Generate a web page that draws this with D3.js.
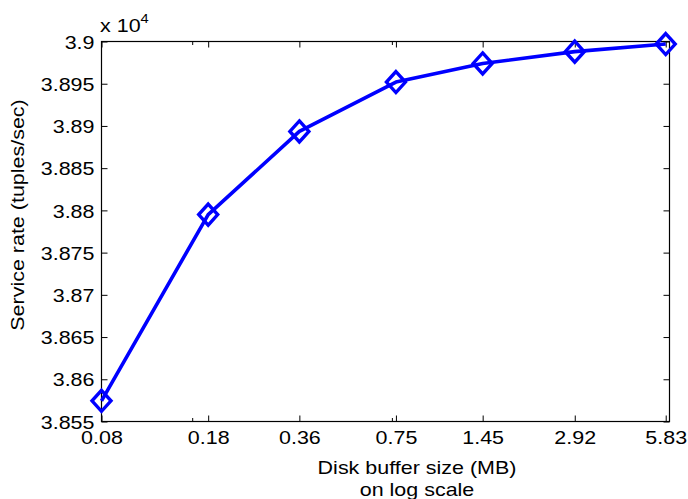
<!DOCTYPE html>
<html>
<head>
<meta charset="utf-8">
<script src="https://cdn.jsdelivr.net/npm/d3@7"></script>
<style>
  html, body { margin: 0; padding: 0; background: #fff; }
  svg { display: block; }
  text { font-family: "Liberation Sans", Arial, Helvetica, sans-serif; fill: #000; }
</style>
</head>
<body>
<svg id="chart" width="688" height="499"></svg>
<script>
// Disk buffer size (MB) and measured service rate (tuples/sec)
const bufferSizes = [0.08, 0.18, 0.36, 0.75, 1.45, 2.92, 5.83];
const serviceRates = [38574.5, 38795, 38893.5, 38952, 38974, 38988, 38997];
const xTickLabels = ["0.08", "0.18", "0.36", "0.75", "1.45", "2.92", "5.83"];
const xMinorTicks = [0.16, 0.73];
const yTicks = [38550, 38600, 38650, 38700, 38750, 38800, 38850, 38900, 38950, 39000];
const yTickLabels = ["3.855", "3.86", "3.865", "3.87", "3.875", "3.88", "3.885", "3.89", "3.895", "3.9"];

const svg = d3.select("#chart");
const plotLeft = 101.5, plotRight = 669.5, plotTop = 41.5, plotBottom = 421.5;

const x = d3.scaleLog().domain([0.08, 6]).range([plotLeft, plotRight]);
const y = d3.scaleLinear().domain([38550, 39000]).range([plotBottom, plotTop]);

const fontSize = 19;
const stretch = 1.13;   // slightly wide lettering
const tickLen = 6;

// Axes box
svg.append("rect")
  .attr("x", plotLeft).attr("y", plotTop)
  .attr("width", plotRight - plotLeft).attr("height", plotBottom - plotTop)
  .attr("fill", "none").attr("stroke", "#000").attr("stroke-width", 1.2);

// Bottom axis: inward ticks with labels
const xAxis = d3.axisBottom(x)
  .tickValues(bufferSizes)
  .tickFormat((d, i) => xTickLabels[i])
  .tickSizeInner(-tickLen).tickSizeOuter(0);
const gx = svg.append("g").attr("transform", `translate(0,${plotBottom})`).call(xAxis);
gx.select(".domain").remove();
gx.selectAll("line").attr("stroke", "#000");
gx.selectAll("text").attr("font-size", fontSize).attr("font-family", "Liberation Sans, Arial, sans-serif")
  .attr("dy", null).attr("y", 23).attr("transform", `scale(${stretch},1)`);

// Top axis: mirrored ticks
const gxt = svg.append("g").attr("transform", `translate(0,${plotTop})`)
  .call(d3.axisTop(x).tickValues(bufferSizes).tickFormat("").tickSizeInner(-tickLen).tickSizeOuter(0));
gxt.select(".domain").remove();
gxt.selectAll("line").attr("stroke", "#000");

// Minor log ticks on top and bottom
[[plotBottom, -1], [plotTop, 1]].forEach(([yy, dir]) => {
  svg.append("g").selectAll("line").data(xMinorTicks).join("line")
    .attr("x1", d => x(d)).attr("x2", d => x(d))
    .attr("y1", yy).attr("y2", yy + dir * 3.5)
    .attr("stroke", "#000");
});

// Left axis
const yAxis = d3.axisLeft(y)
  .tickValues(yTicks)
  .tickFormat((d, i) => yTickLabels[i])
  .tickSizeInner(-tickLen).tickSizeOuter(0);
const gy = svg.append("g").attr("transform", `translate(${plotLeft},0)`).call(yAxis);
gy.select(".domain").remove();
gy.selectAll("line").attr("stroke", "#000");
gy.selectAll("text").attr("font-size", fontSize).attr("font-family", "Liberation Sans, Arial, sans-serif")
  .attr("x", -7 / stretch).attr("dy", "0.35em").attr("transform", `scale(${stretch},1)`);

// Right axis: mirrored ticks
const gyr = svg.append("g").attr("transform", `translate(${plotRight},0)`)
  .call(d3.axisRight(y).tickValues(yTicks).tickFormat("").tickSizeInner(-tickLen).tickSizeOuter(0));
gyr.select(".domain").remove();
gyr.selectAll("line").attr("stroke", "#000");

// Exponent label
const expo = svg.append("text").attr("transform", `translate(100,32) scale(${stretch},1)`).attr("font-size", fontSize);
expo.append("tspan").text("x 10");
expo.append("tspan").attr("font-size", 13).attr("dy", -9).text("4");

// Axis titles
svg.append("text")
  .attr("transform", `translate(417,474) scale(${stretch},1)`)
  .attr("text-anchor", "middle").attr("font-size", fontSize)
  .text("Disk buffer size (MB)");
svg.append("text")
  .attr("transform", `translate(417,496) scale(${stretch},1)`)
  .attr("text-anchor", "middle").attr("font-size", fontSize)
  .text("on log scale");
svg.append("text")
  .attr("transform", `translate(24,215) rotate(-90) scale(${stretch},1)`)
  .attr("text-anchor", "middle").attr("font-size", fontSize)
  .text("Service rate (tuples/sec)");

// Series line
const pts = bufferSizes.map((b, i) => [b, serviceRates[i]]);
svg.append("path")
  .datum(pts)
  .attr("fill", "none")
  .attr("stroke", "#0000ff")
  .attr("stroke-width", 3.6)
  .attr("stroke-linejoin", "round")
  .attr("d", d3.line().x(d => x(d[0])).y(d => y(d[1])));

// Diamond markers
svg.append("g").selectAll("path.marker").data(pts).join("path")
  .attr("class", "marker")
  .attr("d", "M0,-10.5L9.5,0L0,10.5L-9.5,0Z")
  .attr("transform", d => `translate(${x(d[0])},${y(d[1])})`)
  .attr("fill", "none")
  .attr("stroke", "#0000ff")
  .attr("stroke-width", 3.4);
</script>
</body>
</html>
